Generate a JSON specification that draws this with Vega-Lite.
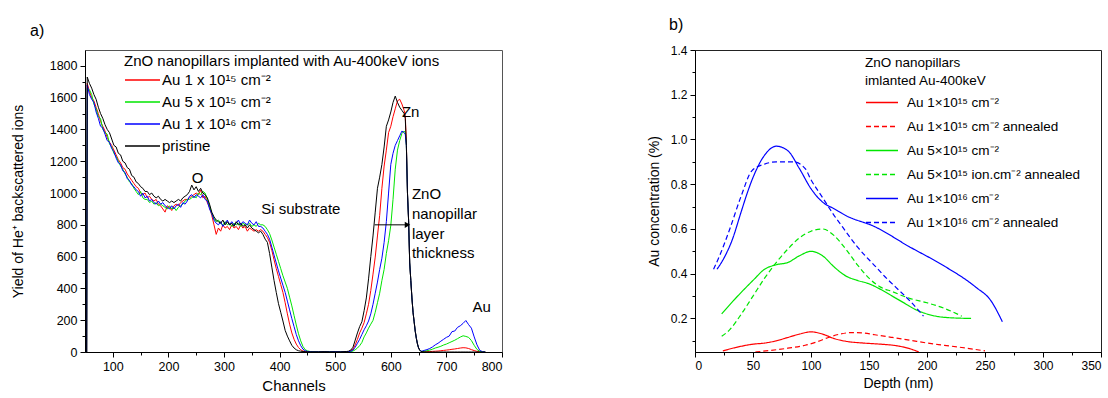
{
  "$schema": "https://vega.github.io/schema/vega-lite/v6.json",
  "background": "white",
  "padding": {"left": 10, "top": 16, "right": 0, "bottom": 0},
  "bounds": "flush",
  "spacing": 193,
  "resolve": {"scale": {"color": "independent", "strokeDash": "independent", "x": "independent", "y": "independent"}, "legend": {"color": "independent", "strokeDash": "independent"}},
  "config": {
    "font": "Liberation Sans",
    "axis": {"grid": false, "domainColor": "#000", "tickColor": "#000", "labelColor": "#000", "titleColor": "#000", "titleFontWeight": "normal", "labelFont": "Liberation Sans", "titleFont": "Liberation Sans", "labelOverlap": false, "labelSeparation": -30},
    "legend": {"padding": 0, "titleFontWeight": "normal", "titleColor": "#000", "labelColor": "#000", "titleFont": "Liberation Sans", "labelFont": "Liberation Sans"},
    "title": {"font": "Liberation Sans", "fontWeight": "normal", "color": "#000"}
  },
  "hconcat": [
    {
      "width": 417,
      "height": 302,
      "view": {"stroke": "#555"},
      "title": {"text": "a)", "anchor": "start", "frame": "group", "dx": -55, "offset": 11, "fontSize": 16},
      "resolve": {"axis": {"x": "independent", "y": "independent"}},
      "layer": [
        {
          "data": {"values": [
            {"c":53,"r":0,"g":0,"b":0,"k":0},
            {"c":54,"r":1690,"g":1660,"b":1680,"k":1730},
            {"c":58,"r":1640,"g":1650,"b":1620,"k":1690},
            {"c":62,"r":1600,"g":1620,"b":1590,"k":1660},
            {"c":66,"r":1580,"g":1560,"b":1570,"k":1620},
            {"c":70,"r":1540,"g":1530,"b":1510,"k":1590},
            {"c":74,"r":1500,"g":1480,"b":1470,"k":1540},
            {"c":78,"r":1450,"g":1470,"b":1420,"k":1500},
            {"c":82,"r":1420,"g":1400,"b":1410,"k":1470},
            {"c":86,"r":1390,"g":1380,"b":1370,"k":1430},
            {"c":90,"r":1350,"g":1370,"b":1330,"k":1400},
            {"c":94,"r":1320,"g":1310,"b":1320,"k":1380},
            {"c":98,"r":1300,"g":1290,"b":1280,"k":1340},
            {"c":102,"r":1270,"g":1250,"b":1260,"k":1300},
            {"c":106,"r":1240,"g":1230,"b":1220,"k":1290},
            {"c":110,"r":1210,"g":1200,"b":1190,"k":1250},
            {"c":114,"r":1190,"g":1170,"b":1180,"k":1240},
            {"c":118,"r":1160,"g":1150,"b":1140,"k":1200},
            {"c":122,"r":1150,"g":1120,"b":1130,"k":1190},
            {"c":126,"r":1120,"g":1100,"b":1090,"k":1160},
            {"c":130,"r":1100,"g":1070,"b":1080,"k":1150},
            {"c":134,"r":1080,"g":1060,"b":1050,"k":1110},
            {"c":138,"r":1060,"g":1030,"b":1040,"k":1100},
            {"c":142,"r":1040,"g":1010,"b":1020,"k":1070},
            {"c":146,"r":1030,"g":990,"b":1010,"k":1060},
            {"c":150,"r":1000,"g":1010,"b":980,"k":1040},
            {"c":154,"r":990,"g":970,"b":1000,"k":1030},
            {"c":158,"r":1000,"g":960,"b":970,"k":1010},
            {"c":162,"r":970,"g":960,"b":980,"k":1010},
            {"c":166,"r":980,"g":940,"b":950,"k":990},
            {"c":170,"r":960,"g":950,"b":960,"k":1000},
            {"c":174,"r":950,"g":930,"b":940,"k":980},
            {"c":178,"r":960,"g":940,"b":930,"k":970},
            {"c":182,"r":930,"g":920,"b":950,"k":980},
            {"c":186,"r":920,"g":930,"b":930,"k":960},
            {"c":190,"r":900,"g":920,"b":940,"k":950},
            {"c":194,"r":880,"g":910,"b":920,"k":960},
            {"c":198,"r":920,"g":900,"b":910,"k":950},
            {"c":202,"r":910,"g":920,"b":900,"k":940},
            {"c":206,"r":890,"g":900,"b":920,"k":950},
            {"c":210,"r":920,"g":910,"b":900,"k":940},
            {"c":214,"r":930,"g":890,"b":920,"k":950},
            {"c":218,"r":920,"g":910,"b":930,"k":960},
            {"c":222,"r":940,"g":920,"b":910,"k":950},
            {"c":226,"r":950,"g":930,"b":940,"k":970},
            {"c":230,"r":960,"g":950,"b":930,"k":980},
            {"c":234,"r":960,"g":960,"b":950,"k":990},
            {"c":238,"r":970,"g":960,"b":980,"k":1010},
            {"c":242,"r":980,"g":970,"b":990,"k":1050},
            {"c":246,"r":990,"g":980,"b":970,"k":1020},
            {"c":250,"r":1000,"g":970,"b":990,"k":1040},
            {"c":254,"r":990,"g":1000,"b":980,"k":1010},
            {"c":258,"r":1020,"g":990,"b":970,"k":1030},
            {"c":262,"r":970,"g":1010,"b":990,"k":1000},
            {"c":266,"r":980,"g":1000,"b":960,"k":990},
            {"c":270,"r":940,"g":960,"b":950,"k":970},
            {"c":274,"r":910,"g":920,"b":900,"k":930},
            {"c":278,"r":860,"g":870,"b":870,"k":880},
            {"c":282,"r":800,"g":840,"b":830,"k":850},
            {"c":286,"r":740,"g":820,"b":810,"k":830},
            {"c":290,"r":780,"g":830,"b":800,"k":820},
            {"c":294,"r":760,"g":810,"b":820,"k":810},
            {"c":298,"r":800,"g":800,"b":790,"k":830},
            {"c":302,"r":780,"g":820,"b":810,"k":800},
            {"c":306,"r":790,"g":800,"b":830,"k":820},
            {"c":310,"r":770,"g":810,"b":800,"k":800},
            {"c":314,"r":800,"g":790,"b":820,"k":810},
            {"c":318,"r":780,"g":810,"b":800,"k":790},
            {"c":322,"r":790,"g":800,"b":810,"k":820},
            {"c":326,"r":770,"g":810,"b":830,"k":800},
            {"c":330,"r":800,"g":790,"b":800,"k":810},
            {"c":334,"r":780,"g":810,"b":820,"k":790},
            {"c":338,"r":790,"g":800,"b":810,"k":800},
            {"c":342,"r":760,"g":800,"b":800,"k":780},
            {"c":346,"r":780,"g":810,"b":830,"k":800},
            {"c":350,"r":770,"g":790,"b":810,"k":780},
            {"c":354,"r":760,"g":800,"b":800,"k":770},
            {"c":358,"r":770,"g":790,"b":820,"k":760},
            {"c":362,"r":760,"g":810,"b":790,"k":750},
            {"c":366,"r":770,"g":800,"b":790,"k":760},
            {"c":370,"r":760,"g":800,"b":780,"k":740},
            {"c":374,"r":740,"g":790,"b":760,"k":710},
            {"c":378,"r":720,"g":770,"b":740,"k":690},
            {"c":382,"r":690,"g":745,"b":710,"k":620},
            {"c":386,"r":640,"g":705,"b":660,"k":534},
            {"c":390,"r":580,"g":660,"b":610,"k":450},
            {"c":394,"r":525,"g":615,"b":560,"k":375},
            {"c":398,"r":475,"g":570,"b":510,"k":304},
            {"c":402,"r":425,"g":525,"b":465,"k":250},
            {"c":406,"r":375,"g":480,"b":420,"k":195},
            {"c":410,"r":310,"g":440,"b":375,"k":136},
            {"c":414,"r":240,"g":400,"b":320,"k":100},
            {"c":418,"r":175,"g":345,"b":265,"k":70},
            {"c":422,"r":120,"g":290,"b":210,"k":42},
            {"c":426,"r":80,"g":230,"b":160,"k":25},
            {"c":430,"r":50,"g":170,"b":110,"k":14},
            {"c":434,"r":28,"g":115,"b":70,"k":8},
            {"c":438,"r":14,"g":70,"b":40,"k":5},
            {"c":442,"r":6,"g":35,"b":18,"k":3},
            {"c":446,"r":3,"g":15,"b":8,"k":2},
            {"c":450,"r":2,"g":7,"b":4,"k":1},
            {"c":455,"r":1,"g":3,"b":2,"k":1},
            {"c":460,"r":1,"g":2,"b":1,"k":1},
            {"c":470,"r":1,"g":1,"b":1,"k":1},
            {"c":480,"r":2,"g":1,"b":1,"k":2},
            {"c":490,"r":1,"g":2,"b":1,"k":1},
            {"c":500,"r":1,"g":1,"b":2,"k":1},
            {"c":510,"r":2,"g":1,"b":1,"k":1},
            {"c":520,"r":2,"g":1,"b":2,"k":3},
            {"c":524,"r":3,"g":1,"b":2,"k":5},
            {"c":528,"r":8,"g":3,"b":5,"k":12},
            {"c":532,"r":18,"g":6,"b":12,"k":30},
            {"c":536,"r":45,"g":14,"b":30,"k":75},
            {"c":540,"r":80,"g":25,"b":55,"k":120},
            {"c":544,"r":120,"g":40,"b":80,"k":160},
            {"c":548,"r":150,"g":60,"b":110,"k":190},
            {"c":552,"r":185,"g":95,"b":140,"k":260},
            {"c":556,"r":240,"g":120,"b":165,"k":340},
            {"c":560,"r":300,"g":150,"b":195,"k":460},
            {"c":564,"r":387,"g":175,"b":240,"k":600},
            {"c":568,"r":490,"g":199,"b":300,"k":730},
            {"c":572,"r":597,"g":250,"b":370,"k":880},
            {"c":576,"r":730,"g":310,"b":440,"k":1030},
            {"c":580,"r":860,"g":370,"b":520,"k":1100},
            {"c":584,"r":1030,"g":450,"b":590,"k":1180},
            {"c":588,"r":1170,"g":520,"b":690,"k":1290},
            {"c":592,"r":1270,"g":620,"b":820,"k":1420},
            {"c":596,"r":1380,"g":700,"b":1000,"k":1460},
            {"c":600,"r":1420,"g":796,"b":1180,"k":1510},
            {"c":604,"r":1480,"g":960,"b":1250,"k":1570},
            {"c":608,"r":1530,"g":1150,"b":1300,"k":1610},
            {"c":612,"r":1580,"g":1270,"b":1330,"k":1570},
            {"c":616,"r":1590,"g":1330,"b":1360,"k":1540},
            {"c":620,"r":1560,"g":1375,"b":1390,"k":1520},
            {"c":624,"r":1520,"g":1390,"b":1380,"k":1500},
            {"c":626,"r":1490,"g":1380,"b":1370,"k":1470},
            {"c":628,"r":1320,"g":1300,"b":1300,"k":1300},
            {"c":630,"r":1000,"g":1000,"b":1000,"k":1000},
            {"c":632,"r":830,"g":830,"b":830,"k":830},
            {"c":634,"r":560,"g":560,"b":560,"k":560},
            {"c":636,"r":450,"g":450,"b":450,"k":450},
            {"c":638,"r":340,"g":340,"b":340,"k":340},
            {"c":640,"r":250,"g":250,"b":250,"k":250},
            {"c":642,"r":190,"g":190,"b":190,"k":190},
            {"c":644,"r":130,"g":130,"b":130,"k":130},
            {"c":646,"r":85,"g":85,"b":85,"k":85},
            {"c":648,"r":50,"g":50,"b":50,"k":50},
            {"c":650,"r":25,"g":25,"b":25,"k":25},
            {"c":652,"r":12,"g":12,"b":12,"k":12},
            {"c":654,"r":5,"g":5,"b":6,"k":5},
            {"c":656,"r":2,"g":3,"b":5,"k":2},
            {"c":660,"r":2,"g":5,"b":10,"k":1},
            {"c":665,"r":2,"g":8,"b":15,"k":0},
            {"c":670,"r":3,"g":12,"b":22,"k":0},
            {"c":675,"r":4,"g":18,"b":32,"k":0},
            {"c":680,"r":5,"g":25,"b":45,"k":0},
            {"c":685,"r":6,"g":30,"b":55,"k":0},
            {"c":690,"r":8,"g":36,"b":68,"k":0},
            {"c":695,"r":10,"g":44,"b":80,"k":0},
            {"c":700,"r":12,"g":50,"b":92,"k":0},
            {"c":705,"r":14,"g":58,"b":100,"k":0},
            {"c":710,"r":17,"g":66,"b":128,"k":0},
            {"c":715,"r":19,"g":74,"b":132,"k":0},
            {"c":720,"r":22,"g":84,"b":155,"k":0},
            {"c":725,"r":25,"g":94,"b":165,"k":0},
            {"c":730,"r":27,"g":102,"b":180,"k":0},
            {"c":735,"r":26,"g":98,"b":198,"k":0},
            {"c":740,"r":22,"g":92,"b":172,"k":0},
            {"c":745,"r":15,"g":72,"b":150,"k":0},
            {"c":750,"r":9,"g":42,"b":95,"k":0},
            {"c":755,"r":4,"g":16,"b":45,"k":0},
            {"c":760,"r":2,"g":4,"b":10,"k":0},
            {"c":765,"r":0,"g":1,"b":2,"k":0},
            {"c":770,"r":0,"g":0,"b":0,"k":0}
          ]},
          "transform": [{"fold": ["r", "g", "b", "k"], "as": ["s", "v"]}],
          "mark": {"type": "line", "strokeWidth": 1, "clip": true},
          "encoding": {
            "x": {"field": "c", "type": "quantitative", "scale": {"domain": [50, 800], "nice": false, "zero": false},
              "axis": {"orient": "bottom", "title": "Channels", "format": "d", "values": [100,200,300,400,500,600,700,800],
                "tickSize": 5, "labelFontSize": 12.5, "titleFontSize": 15, "labelPadding": 3, "titlePadding": 6}},
            "y": {"field": "v", "type": "quantitative", "scale": {"domain": [0, 1900], "nice": false},
              "axis": {"orient": "left", "title": "Yield of He⁺ backscattered ions", "format": "d", "values": [0,200,400,600,800,1000,1200,1400,1600,1800],
                "tickSize": 5, "labelFontSize": 12.5, "titleFontSize": 14, "labelPadding": 3, "titlePadding": 24}},
            "color": {"field": "s", "type": "nominal",
              "scale": {"domain": ["r", "g", "b", "k"], "range": ["#ff0000", "#00e600", "#0000ff", "#000000"]},
              "legend": {"orient": "none", "legendX": 39, "legendY": 4, "title": "ZnO nanopillars implanted with Au-400keV ions",
                "titleFontSize": 15, "titleLimit": 600, "titlePadding": 0, "labelFontSize": 15, "labelLimit": 400,
                "symbolType": "M-1,0L2.5,0", "symbolSize": 400, "symbolStrokeWidth": 1.5, "labelOffset": 16, "rowPadding": 3,
                "labelExpr": "datum.label == 'r' ? 'Au 1 x 10¹⁵ cm⁻²' : datum.label == 'g' ? 'Au 5 x 10¹⁵ cm⁻²' : datum.label == 'b' ? 'Au 1 x 10¹⁶ cm⁻²' : 'pristine'"}}
          }
        },
        {
          "data": {"values": [
            {"c": 242, "v": 1092, "t": "O"},
            {"c": 367, "v": 900, "t": "Si substrate"},
            {"c": 620, "v": 1507, "t": "Zn"},
            {"c": 638, "v": 993, "t": "ZnO"},
            {"c": 638, "v": 870, "t": "nanopillar"},
            {"c": 638, "v": 745, "t": "layer"},
            {"c": 638, "v": 622, "t": "thickness"},
            {"c": 747, "v": 283, "t": "Au"}
          ]},
          "mark": {"type": "text", "align": "left", "baseline": "middle", "fontSize": 15, "color": "#000"},
          "encoding": {
            "x": {"field": "c", "type": "quantitative",
              "axis": {"orient": "bottom", "title": null, "labels": false, "domain": false, "tickSize": 3, "values": [150,250,350,450,550,650,750]}},
            "y": {"field": "v", "type": "quantitative",
              "axis": {"orient": "left", "title": null, "labels": false, "domain": false, "tickSize": 3, "values": [100,300,500,700,900,1100,1300,1500,1700]}},
            "text": {"field": "t"}
          }
        },
        {
          "data": {"values": [{"c": 571, "c2": 630, "v": 800}]},
          "mark": {"type": "rule", "color": "#000", "strokeWidth": 1},
          "encoding": {
            "x": {"field": "c", "type": "quantitative", "axis": null},
            "x2": {"field": "c2"},
            "y": {"field": "v", "type": "quantitative", "axis": null}
          }
        },
        {
          "data": {"values": [{"c": 630, "v": 800}]},
          "mark": {"type": "point", "shape": "triangle-right", "filled": true, "size": 40, "color": "#000", "opacity": 1},
          "encoding": {
            "x": {"field": "c", "type": "quantitative", "axis": null},
            "y": {"field": "v", "type": "quantitative", "axis": null}
          }
        }
      ]
    },
    {
      "width": 406,
      "height": 302,
      "view": {"stroke": "#222"},
      "title": {"text": "b)", "anchor": "start", "frame": "group", "dx": -26, "offset": 11, "fontSize": 16},
      "data": {"values": [
        {"d":24,"v":0.055,"sr":"s1"},{"d":35,"v":0.07,"sr":"s1"},{"d":50,"v":0.085,"sr":"s1"},{"d":60,"v":0.09,"sr":"s1"},{"d":70,"v":0.1,"sr":"s1"},{"d":80,"v":0.115,"sr":"s1"},{"d":90,"v":0.13,"sr":"s1"},{"d":100,"v":0.14,"sr":"s1"},{"d":110,"v":0.13,"sr":"s1"},{"d":120,"v":0.11,"sr":"s1"},{"d":130,"v":0.098,"sr":"s1"},{"d":145,"v":0.09,"sr":"s1"},{"d":160,"v":0.085,"sr":"s1"},{"d":175,"v":0.077,"sr":"s1"},{"d":185,"v":0.065,"sr":"s1"},{"d":193,"v":0.05,"sr":"s1"},
        {"d":52,"v":0.05,"sr":"s1a"},{"d":65,"v":0.057,"sr":"s1a"},{"d":80,"v":0.067,"sr":"s1a"},{"d":95,"v":0.08,"sr":"s1a"},{"d":105,"v":0.095,"sr":"s1a"},{"d":115,"v":0.115,"sr":"s1a"},{"d":125,"v":0.13,"sr":"s1a"},{"d":135,"v":0.137,"sr":"s1a"},{"d":145,"v":0.135,"sr":"s1a"},{"d":155,"v":0.127,"sr":"s1a"},{"d":170,"v":0.115,"sr":"s1a"},{"d":185,"v":0.103,"sr":"s1a"},{"d":200,"v":0.09,"sr":"s1a"},{"d":215,"v":0.08,"sr":"s1a"},{"d":230,"v":0.07,"sr":"s1a"},{"d":250,"v":0.055,"sr":"s1a"},
        {"d":23,"v":0.22,"sr":"s5"},{"d":35,"v":0.29,"sr":"s5"},{"d":50,"v":0.37,"sr":"s5"},{"d":60,"v":0.42,"sr":"s5"},{"d":70,"v":0.44,"sr":"s5"},{"d":80,"v":0.45,"sr":"s5"},{"d":90,"v":0.48,"sr":"s5"},{"d":100,"v":0.5,"sr":"s5"},{"d":110,"v":0.48,"sr":"s5"},{"d":120,"v":0.43,"sr":"s5"},{"d":130,"v":0.39,"sr":"s5"},{"d":140,"v":0.37,"sr":"s5"},{"d":150,"v":0.355,"sr":"s5"},{"d":160,"v":0.33,"sr":"s5"},{"d":170,"v":0.3,"sr":"s5"},{"d":180,"v":0.27,"sr":"s5"},{"d":190,"v":0.24,"sr":"s5"},{"d":200,"v":0.22,"sr":"s5"},{"d":215,"v":0.205,"sr":"s5"},{"d":238,"v":0.2,"sr":"s5"},
        {"d":23,"v":0.12,"sr":"s5a"},{"d":30,"v":0.15,"sr":"s5a"},{"d":40,"v":0.22,"sr":"s5a"},{"d":50,"v":0.3,"sr":"s5a"},{"d":60,"v":0.38,"sr":"s5a"},{"d":70,"v":0.45,"sr":"s5a"},{"d":80,"v":0.51,"sr":"s5a"},{"d":90,"v":0.56,"sr":"s5a"},{"d":100,"v":0.59,"sr":"s5a"},{"d":110,"v":0.6,"sr":"s5a"},{"d":120,"v":0.57,"sr":"s5a"},{"d":130,"v":0.51,"sr":"s5a"},{"d":140,"v":0.44,"sr":"s5a"},{"d":150,"v":0.38,"sr":"s5a"},{"d":160,"v":0.34,"sr":"s5a"},{"d":170,"v":0.32,"sr":"s5a"},{"d":185,"v":0.29,"sr":"s5a"},{"d":200,"v":0.27,"sr":"s5a"},{"d":215,"v":0.245,"sr":"s5a"},{"d":230,"v":0.21,"sr":"s5a"},
        {"d":19,"v":0.42,"sr":"s16"},{"d":25,"v":0.47,"sr":"s16"},{"d":32,"v":0.55,"sr":"s16"},{"d":40,"v":0.68,"sr":"s16"},{"d":45,"v":0.76,"sr":"s16"},{"d":50,"v":0.83,"sr":"s16"},{"d":60,"v":0.93,"sr":"s16"},{"d":70,"v":0.97,"sr":"s16"},{"d":80,"v":0.95,"sr":"s16"},{"d":90,"v":0.87,"sr":"s16"},{"d":100,"v":0.78,"sr":"s16"},{"d":110,"v":0.72,"sr":"s16"},{"d":120,"v":0.69,"sr":"s16"},{"d":130,"v":0.66,"sr":"s16"},{"d":155,"v":0.61,"sr":"s16"},{"d":185,"v":0.52,"sr":"s16"},{"d":213,"v":0.44,"sr":"s16"},{"d":242,"v":0.34,"sr":"s16"},{"d":255,"v":0.28,"sr":"s16"},{"d":265,"v":0.185,"sr":"s16"},
        {"d":16,"v":0.42,"sr":"s16a"},{"d":22,"v":0.49,"sr":"s16a"},{"d":30,"v":0.6,"sr":"s16a"},{"d":40,"v":0.75,"sr":"s16a"},{"d":49,"v":0.86,"sr":"s16a"},{"d":60,"v":0.89,"sr":"s16a"},{"d":70,"v":0.9,"sr":"s16a"},{"d":85,"v":0.9,"sr":"s16a"},{"d":95,"v":0.87,"sr":"s16a"},{"d":100,"v":0.82,"sr":"s16a"},{"d":110,"v":0.74,"sr":"s16a"},{"d":120,"v":0.66,"sr":"s16a"},{"d":127,"v":0.61,"sr":"s16a"},{"d":140,"v":0.52,"sr":"s16a"},{"d":156,"v":0.43,"sr":"s16a"},{"d":165,"v":0.38,"sr":"s16a"},{"d":173,"v":0.34,"sr":"s16a"},{"d":185,"v":0.28,"sr":"s16a"},{"d":197,"v":0.21,"sr":"s16a"}
      ]},
      "mark": {"type": "line", "strokeWidth": 1.2, "interpolate": "monotone", "clip": true},
      "encoding": {
        "x": {"field": "d", "type": "quantitative", "scale": {"domain": [0, 350], "nice": false},
          "axis": {"title": "Depth (nm)", "format": "d", "values": [0,25,50,75,100,125,150,175,200,225,250,275,300,325,350],
            "labelExpr": "datum.value % 50 === 0 ? datum.label : ''",
            "tickSize": {"condition": {"test": "datum.value % 50 !== 0", "value": 3}, "value": 5},
            "labelFontSize": 12, "titleFontSize": 14, "labelPadding": 3, "titlePadding": 5}},
        "y": {"field": "v", "type": "quantitative", "scale": {"domain": [0.05, 1.4], "nice": false, "zero": false},
          "axis": {"title": "Au concentration (%)", "format": ".1f", "values": [0.1,0.2,0.3,0.4,0.5,0.6,0.7,0.8,0.9,1.0,1.1,1.2,1.3,1.4],
            "labelExpr": "round(datum.value*10) % 2 === 0 ? datum.label : ''",
            "tickSize": {"condition": {"test": "round(datum.value*10) % 2 !== 0", "value": 3}, "value": 5},
            "labelFontSize": 12, "titleFontSize": 14, "labelPadding": 3, "titlePadding": 9}},
        "color": {"field": "sr", "type": "nominal",
          "scale": {"domain": ["s1", "s1a", "s5", "s5a", "s16", "s16a"], "range": ["#ff0000", "#ff0000", "#00e600", "#00e600", "#0000ff", "#0000ff"]},
          "legend": {"orient": "none", "legendX": 170, "legendY": 6, "title": ["ZnO nanopillars", "imlanted Au-400keV"],
            "titleFontSize": 13.5, "titleLineHeight": 18, "titleLimit": 400, "titlePadding": -2, "labelFontSize": 13.5, "labelLimit": 400,
            "symbolType": "stroke", "symbolSize": 1024, "symbolStrokeWidth": 1.5, "labelOffset": 8, "rowPadding": 0,
            "labelExpr": "datum.label == 's1' ? 'Au 1×10¹⁵ cm⁻²' : datum.label == 's1a' ? 'Au 1×10¹⁵ cm⁻² annealed' : datum.label == 's5' ? 'Au 5×10¹⁵ cm⁻²' : datum.label == 's5a' ? 'Au 5×10¹⁵ ion.cm⁻² annealed' : datum.label == 's16' ? 'Au 1×10¹⁶ cm⁻²' : 'Au 1×10¹⁶ cm⁻² annealed'"}},
        "strokeDash": {"field": "sr", "type": "nominal",
          "scale": {"domain": ["s1", "s1a", "s5", "s5a", "s16", "s16a"], "range": [[1, 0], [5, 3], [1, 0], [5, 3], [1, 0], [5, 3]]},
          "legend": {"orient": "none", "legendX": 170, "legendY": 6, "title": ["ZnO nanopillars", "imlanted Au-400keV"],
            "titleFontSize": 13.5, "titleLineHeight": 18, "titleLimit": 400, "titlePadding": -2, "labelFontSize": 13.5, "labelLimit": 400,
            "symbolType": "stroke", "symbolSize": 1024, "symbolStrokeWidth": 1.5, "labelOffset": 8, "rowPadding": 0,
            "labelExpr": "datum.label == 's1' ? 'Au 1×10¹⁵ cm⁻²' : datum.label == 's1a' ? 'Au 1×10¹⁵ cm⁻² annealed' : datum.label == 's5' ? 'Au 5×10¹⁵ cm⁻²' : datum.label == 's5a' ? 'Au 5×10¹⁵ ion.cm⁻² annealed' : datum.label == 's16' ? 'Au 1×10¹⁶ cm⁻²' : 'Au 1×10¹⁶ cm⁻² annealed'"}}
      }
    }
  ]
}
